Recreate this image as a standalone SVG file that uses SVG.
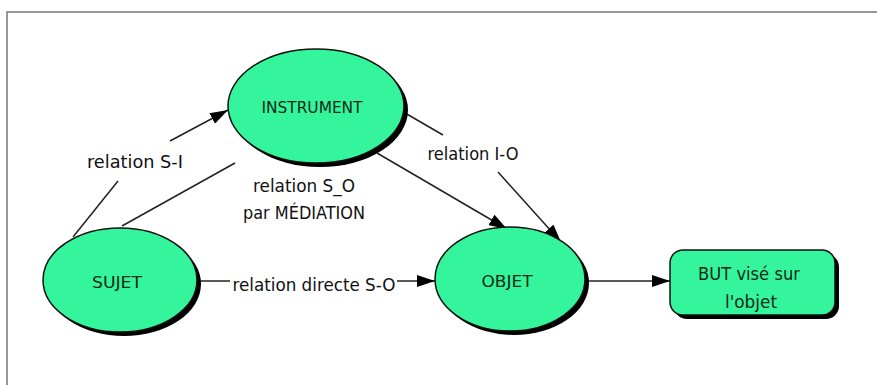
<svg xmlns="http://www.w3.org/2000/svg" width="877" height="385" viewBox="0 0 877 385">
<style>
.node{fill:#35f59c;stroke:#111;stroke-width:1.5}
.sh{fill:#000}
.nt{font-family:"DejaVu Sans Condensed","Liberation Sans",sans-serif;font-size:16px;fill:#0c2a14;text-anchor:middle}
.lt{font-family:"DejaVu Sans Condensed","Liberation Sans",sans-serif;font-size:17px;fill:#111;text-anchor:middle}
.ln{stroke:#222;stroke-width:1.5;fill:none}
</style>
<defs>
<marker id="a" viewBox="0 0 18 12" refX="18" refY="6" markerWidth="18" markerHeight="12" markerUnits="userSpaceOnUse" orient="auto">
<path d="M0,0 L18,6 L0,12 z" fill="#000"/>
</marker>
</defs>
<rect width="877" height="385" fill="#fff"/>
<path d="M7,385 V12 H877" fill="none" stroke="#777" stroke-width="1.5"/>
<g id="connectors">
<path class="ln" d="M73,237 L118,181"/>
<path class="ln" d="M170,141 L228,110" marker-end="url(#a)"/>
<path class="ln" d="M122,226 L235,163"/>
<path class="ln" d="M377,153 L507,229" marker-end="url(#a)"/>
<path class="ln" d="M405,113 L443,135"/>
<path class="ln" d="M498,172 L561,242" marker-end="url(#a)"/>
<path class="ln" d="M197,281 L230,281"/>
<path class="ln" d="M397,281 L435,281" marker-end="url(#a)"/>
<path class="ln" d="M585,281 L670,281" marker-end="url(#a)"/>
<text class="lt" x="135" y="168" textLength="96" lengthAdjust="spacingAndGlyphs">relation S-I</text>
<text class="lt" x="304" y="192" textLength="102" lengthAdjust="spacingAndGlyphs">relation S_O</text>
<text class="lt" x="304" y="219" textLength="122" lengthAdjust="spacingAndGlyphs">par MÉDIATION</text>
<text class="lt" x="473" y="160" textLength="91" lengthAdjust="spacingAndGlyphs">relation I-O</text>
<text class="lt" x="314" y="291" textLength="163" lengthAdjust="spacingAndGlyphs">relation directe S-O</text>
</g>
<g id="instrument">
<ellipse class="sh" cx="320" cy="110" rx="88" ry="57"/>
<ellipse class="node" cx="316" cy="106" rx="88" ry="57"/>
<text class="nt" x="312" y="113" textLength="101" lengthAdjust="spacingAndGlyphs">INSTRUMENT</text>
</g>
<g id="sujet">
<ellipse class="sh" cx="124" cy="284" rx="77" ry="52"/>
<ellipse class="node" cx="120" cy="280" rx="77" ry="52"/>
<text class="nt" x="117" y="288" textLength="50" lengthAdjust="spacingAndGlyphs">SUJET</text>
</g>
<g id="objet">
<ellipse class="sh" cx="514" cy="283" rx="75" ry="52"/>
<ellipse class="node" cx="510" cy="279" rx="75" ry="52"/>
<text class="nt" x="507" y="287" textLength="51" lengthAdjust="spacingAndGlyphs">OBJET</text>
</g>
<g id="but">
<rect class="sh" x="674" y="254" width="165" height="65" rx="13"/>
<rect class="node" x="670" y="250" width="165" height="65" rx="13"/>
<text class="lt" x="749" y="280" textLength="102" lengthAdjust="spacingAndGlyphs" style="fill:#0c2a14">BUT visé sur</text>
<text class="lt" x="751" y="308" textLength="52" lengthAdjust="spacingAndGlyphs" style="fill:#0c2a14">l'objet</text>
</g>
</svg>
